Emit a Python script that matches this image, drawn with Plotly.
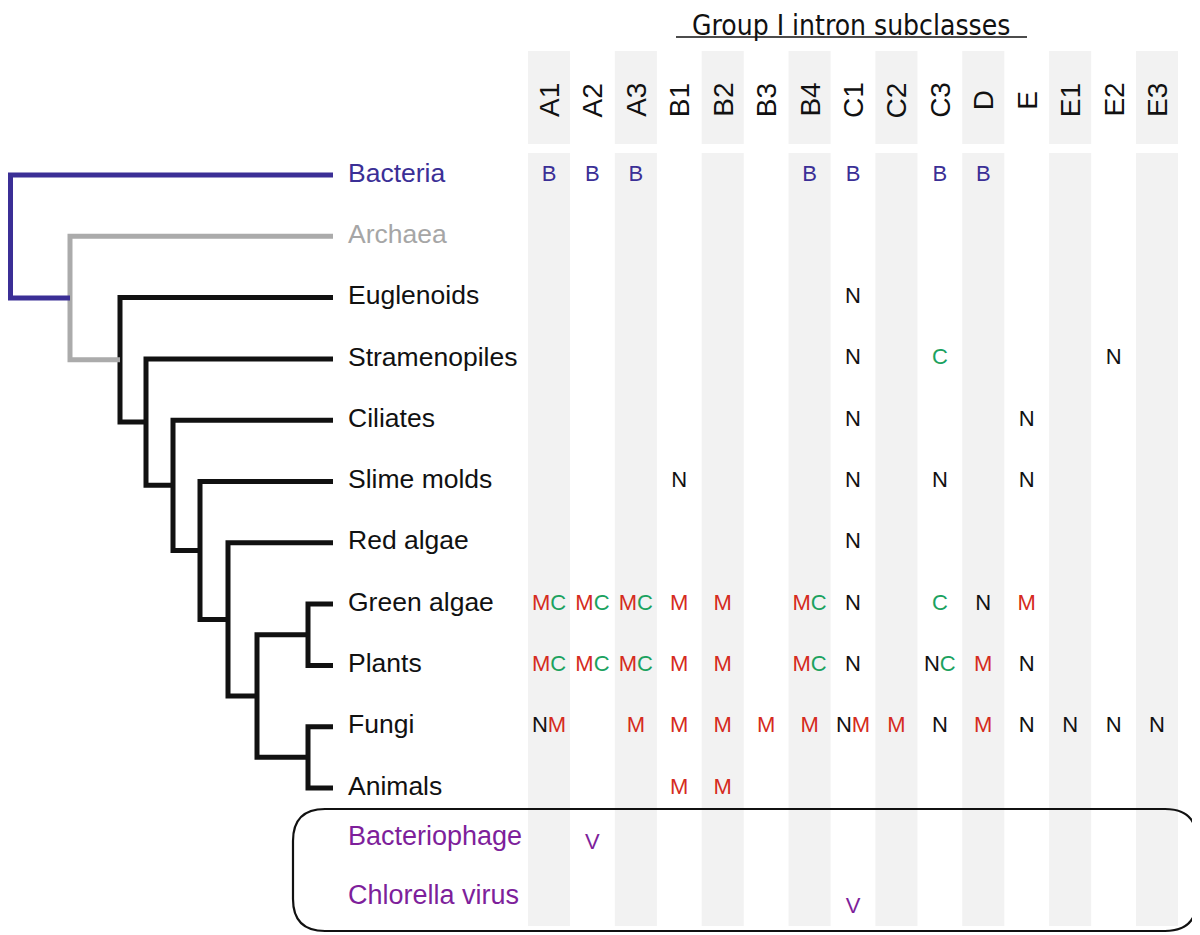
import plotly.graph_objects as go

# ---------------- data ----------------
subclasses = ["A1", "A2", "A3", "B1", "B2", "B3", "B4", "C1", "C2", "C3", "D", "E", "E1", "E2", "E3"]
taxa = ["Bacteria", "Archaea", "Euglenoids", "Stramenopiles", "Ciliates", "Slime molds",
        "Red algae", "Green algae", "Plants", "Fungi", "Animals"]
viruses = ["Bacteriophage", "Chlorella virus"]

# occurrence codes (one entry per subclass): B bacteria, N nuclear, M mitochondrial, C chloroplast, V viral
occ_bacteria      = ["B", "B", "B", "", "", "", "B", "B", "", "B", "B", "", "", "", ""]
occ_archaea       = ["", "", "", "", "", "", "", "", "", "", "", "", "", "", ""]
occ_euglenoids    = ["", "", "", "", "", "", "", "N", "", "", "", "", "", "", ""]
occ_stramenopiles = ["", "", "", "", "", "", "", "N", "", "C", "", "", "", "N", ""]
occ_ciliates      = ["", "", "", "", "", "", "", "N", "", "", "", "N", "", "", ""]
occ_slime_molds   = ["", "", "", "N", "", "", "", "N", "", "N", "", "N", "", "", ""]
occ_red_algae     = ["", "", "", "", "", "", "", "N", "", "", "", "", "", "", ""]
occ_green_algae   = ["MC", "MC", "MC", "M", "M", "", "MC", "N", "", "C", "N", "M", "", "", ""]
occ_plants        = ["MC", "MC", "MC", "M", "M", "", "MC", "N", "", "NC", "M", "N", "", "", ""]
occ_fungi         = ["NM", "", "M", "M", "M", "M", "M", "NM", "M", "N", "M", "N", "N", "N", "N"]
occ_animals       = ["", "", "", "M", "M", "", "", "", "", "", "", "", "", "", ""]
occ_bacteriophage = ["", "V", "", "", "", "", "", "", "", "", "", "", "", "", ""]
occ_chlorella     = ["", "", "", "", "", "", "", "V", "", "", "", "", "", "", ""]

occ_rows = [occ_bacteria, occ_archaea, occ_euglenoids, occ_stramenopiles, occ_ciliates,
            occ_slime_molds, occ_red_algae, occ_green_algae, occ_plants, occ_fungi,
            occ_animals, occ_bacteriophage, occ_chlorella]

# ---------------- styles / layout ----------------
NAVY = "#3b2f96"
GRAY = "#ababab"
BLACK = "#111111"
PURPLE = "#7e1f9b"
letter_colors = {"B": NAVY, "N": "#111111", "M": "#d52b20", "C": "#1ba25f", "V": PURPLE}
label_colors = {"Bacteria": NAVY, "Archaea": "#a6a6a6", "Bacteriophage": PURPLE, "Chlorella virus": PURPLE}
FONT = "Arial, 'Liberation Sans', Helvetica, sans-serif"
NARROW = "'Liberation Sans Narrow', 'Arial Narrow', 'DejaVu Sans Condensed', Arial, sans-serif"
BAND = "#f2f2f2"

OFF = 8                      # page body margin of the html page
W, H = 1200 - OFF, 935 - OFF
ROW0, PITCH = 175, 61.3      # page pixel of first row, row pitch
COL0, COLN = 549, 1157       # page pixel of first / last column centre
virus_label_rows = [10.82, 11.78]
virus_mark_rows = [10.91, 11.95]

# tree topology: (node x position, colour, children)
TIP = 333
tree = (10.5, NAVY, ["Bacteria",
        (70, GRAY, ["Archaea",
         (120, BLACK, ["Euglenoids",
          (146, BLACK, ["Stramenopiles",
           (173, BLACK, ["Ciliates",
            (200, BLACK, ["Slime molds",
             (228, BLACK, ["Red algae",
              (257, BLACK, [
                  (308, BLACK, ["Green algae", "Plants"]),
                  (308, BLACK, ["Fungi", "Animals"])])])])])])])])])

segments = {}


def draw(node):
    if isinstance(node, str):
        return taxa.index(node), TIP
    x, col, kids = node
    pts = [draw(k) for k in kids]
    pts = [(kx, ky) for ky, kx in pts]
    seg = segments.setdefault(col, ([], []))
    seg[0].extend([pts[0][0], x, x, pts[-1][0], None])
    seg[1].extend([pts[0][1], pts[0][1], pts[-1][1], pts[-1][1], None])
    for kx, ky in pts[1:-1]:
        seg[0].extend([x, kx, None])
        seg[1].extend([ky, ky, None])
    return sum(p[1] for p in pts) / len(pts), x


draw(tree)

fig = go.Figure()

for col, (xs, ys) in segments.items():
    fig.add_trace(go.Scatter(x=xs, y=ys, mode="lines", xaxis="x", yaxis="y",
                             line=dict(color=col, width=5), hoverinfo="skip",
                             cliponaxis=False, showlegend=False))

# taxon labels
fig.add_trace(go.Scatter(
    x=[348] * len(taxa), y=list(range(len(taxa))), mode="text", text=taxa,
    textposition="middle right", xaxis="x", yaxis="y",
    textfont=dict(family=FONT, size=26.5,
                  color=[label_colors.get(n, BLACK) for n in taxa]),
    hoverinfo="skip", showlegend=False))
fig.add_trace(go.Scatter(
    x=[348] * len(viruses), y=virus_label_rows, mode="text", text=viruses,
    textposition="middle right", xaxis="x", yaxis="y",
    textfont=dict(family=FONT, size=27, color=PURPLE),
    hoverinfo="skip", showlegend=False))

# occurrence letters
cx, cy, ct = [], [], []
row_y = list(range(len(taxa))) + virus_mark_rows
for r, row in enumerate(occ_rows):
    for c, code in enumerate(row):
        if code:
            cx.append(subclasses[c])
            cy.append(row_y[r])
            ct.append("".join(f"<span style='color:{letter_colors[ch]}'>{ch}</span>" for ch in code))
fig.add_trace(go.Scatter(
    x=cx, y=cy, mode="text", text=ct, textposition="middle center",
    xaxis="x2", yaxis="y", textfont=dict(family=FONT, size=22, color=BLACK),
    hoverinfo="skip", showlegend=False))


def xp(px):
    return (px - OFF) / W


def yp(py):
    return 1 - (py - OFF) / H


shapes = []
# alternating grey column bands
for i, s in enumerate(subclasses):
    if i % 2 == 0:
        for top, bot in [(51, 144), (153, 926)]:
            shapes.append(dict(type="rect", xref="x2", yref="paper",
                               x0=i - 0.485, x1=i + 0.485, y0=yp(bot), y1=yp(top),
                               fillcolor=BAND, line=dict(width=0), layer="below"))

# title underline
shapes.append(dict(type="line", xref="paper", yref="paper", x0=xp(676), x1=xp(1027),
                   y0=yp(37), y1=yp(37), line=dict(color=BLACK, width=1.5)))

# rounded box around viruses
x0, x1, t, b, r = xp(293), xp(1197), yp(809), yp(931), 32
rx, ry = r / W, r / H
path = (f"M {x0 + rx},{t} L {x1 - rx},{t} Q {x1},{t} {x1},{t - ry} "
        f"L {x1},{b + ry} Q {x1},{b} {x1 - rx},{b} L {x0 + rx},{b} "
        f"Q {x0},{b} {x0},{b + ry} L {x0},{t - ry} Q {x0},{t} {x0 + rx},{t} Z")
shapes.append(dict(type="path", xref="paper", yref="paper", path=path,
                   line=dict(color=BLACK, width=2.2)))

annotations = []
for s in subclasses:
    annotations.append(dict(x=s, y=yp(100), xref="x2", yref="paper", text=s,
                            textangle=-90, showarrow=False, xanchor="center", yanchor="middle",
                            font=dict(family=FONT, size=28, color=BLACK)))
annotations.append(dict(x=xp(851), y=1, xref="paper", yref="paper",
                        text="Group I intron subclasses", showarrow=False,
                        xanchor="center", yanchor="top", borderpad=0,
                        font=dict(family=NARROW, size=28, color=BLACK)))

pitch_px = (COLN - COL0) / (len(subclasses) - 1)
fig.update_layout(
    width=W, height=H, margin=dict(l=0, r=0, t=0, b=0, autoexpand=False),
    paper_bgcolor="white", plot_bgcolor="rgba(0,0,0,0)", showlegend=False,
    xaxis=dict(domain=[0, 1], range=[OFF, OFF + W], visible=False, fixedrange=True),
    xaxis2=dict(domain=[xp(COL0 - pitch_px / 2), xp(COLN + pitch_px / 2)],
                type="category", categoryorder="array", categoryarray=subclasses,
                range=[-0.5, len(subclasses) - 0.5], anchor="y",
                visible=False, fixedrange=True),
    yaxis=dict(domain=[0, 1], range=[(935 - ROW0) / PITCH, (OFF - ROW0) / PITCH],
               visible=False, fixedrange=True),
    shapes=shapes, annotations=annotations,
)

fig.write_html("out.html")
